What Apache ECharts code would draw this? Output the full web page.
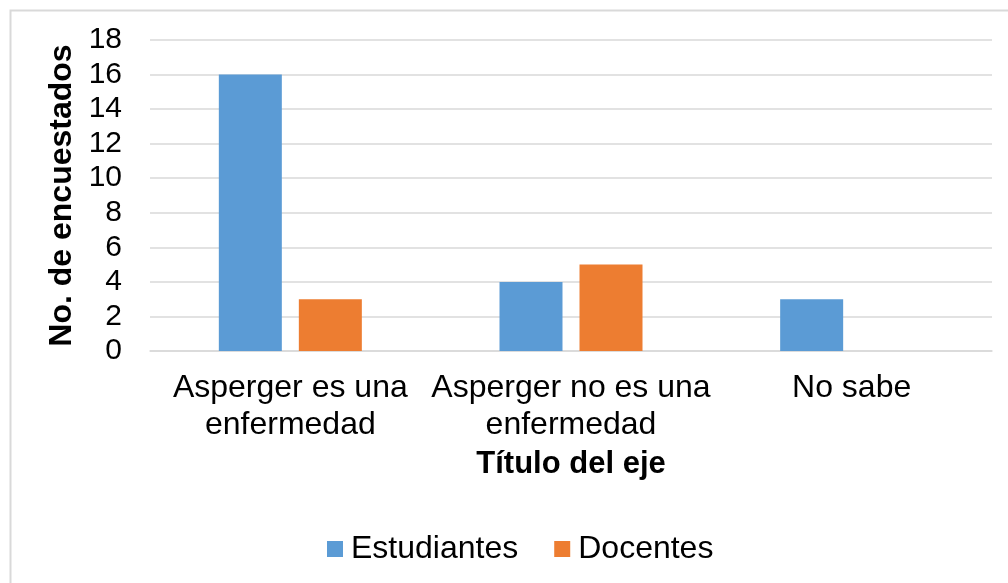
<!DOCTYPE html>
<html>
<head>
<meta charset="utf-8">
<script src="https://cdn.jsdelivr.net/npm/echarts@6/dist/echarts.min.js"></script>
<style>
html,body{margin:0;padding:0;background:#fff;}
#chart{width:1008px;height:583px;}
</style>
</head>
<body>
<div id="chart"></div>
<script>
const categories = ['Asperger es una\nenfermedad', 'Asperger no es una\nenfermedad', 'No sabe'];
const estudiantes = [16, 4, 3];
const docentes = [3, 5, 0];
const seriesNames = ['Estudiantes', 'Docentes'];
const yAxisTitle = 'No. de encuestados';
const xAxisTitle = 'Título del eje';

const chart = echarts.init(document.getElementById('chart'), null, {renderer: 'canvas'});
const font = '"Liberation Sans", Arial, sans-serif';
chart.setOption({
  backgroundColor: '#ffffff',
  animation: false,
  textStyle: {fontFamily: font, color: '#000'},
  graphic: [{
    type: 'rect',
    left: 8, top: 8,
    shape: {width: 1010, height: 600},
    style: {fill: 'none', stroke: '#d9d9d9', lineWidth: 2},
    silent: true
  }],
  grid: {left: 150, right: 16, top: 40, bottom: 232, containLabel: false},
  legend: {
    data: seriesNames,
    top: 528,
    left: 322,
    itemWidth: 16,
    itemHeight: 16,
    itemGap: 36,
    icon: 'rect',
    textStyle: {fontFamily: font, fontSize: 32, color: '#000', padding: [0, 0, 0, 3]}
  },
  xAxis: {
    type: 'category',
    data: categories,
    axisLine: {show: true, lineStyle: {color: '#d9d9d9', width: 1.5}},
    axisTick: {show: false},
    axisLabel: {fontFamily: font, fontSize: 32, color: '#000', lineHeight: 37, margin: 19, interval: 0},
    name: xAxisTitle,
    nameLocation: 'middle',
    nameGap: 112,
    nameTextStyle: {fontFamily: font, fontSize: 31, fontWeight: 'bold', color: '#000', verticalAlign: 'middle'}
  },
  yAxis: {
    type: 'value',
    min: 0, max: 18, interval: 2,
    axisLine: {show: false},
    axisTick: {show: false},
    splitLine: {lineStyle: {color: '#d9d9d9', width: 1.5}},
    axisLabel: {fontFamily: font, fontSize: 30, color: '#000', margin: 28},
    name: yAxisTitle,
    nameLocation: 'middle',
    nameGap: 87,
    nameRotate: 90,
    nameTextStyle: {fontFamily: font, fontSize: 32, fontWeight: 'bold', color: '#000', verticalAlign: 'middle'}
  },
  series: [
    {name: seriesNames[0], type: 'bar', data: estudiantes, barWidth: 63, barGap: '27%', itemStyle: {color: '#5b9bd5'}},
    {name: seriesNames[1], type: 'bar', data: docentes, barWidth: 63, barGap: '27%', itemStyle: {color: '#ed7d31'}}
  ]
});
</script>
</body>
</html>
